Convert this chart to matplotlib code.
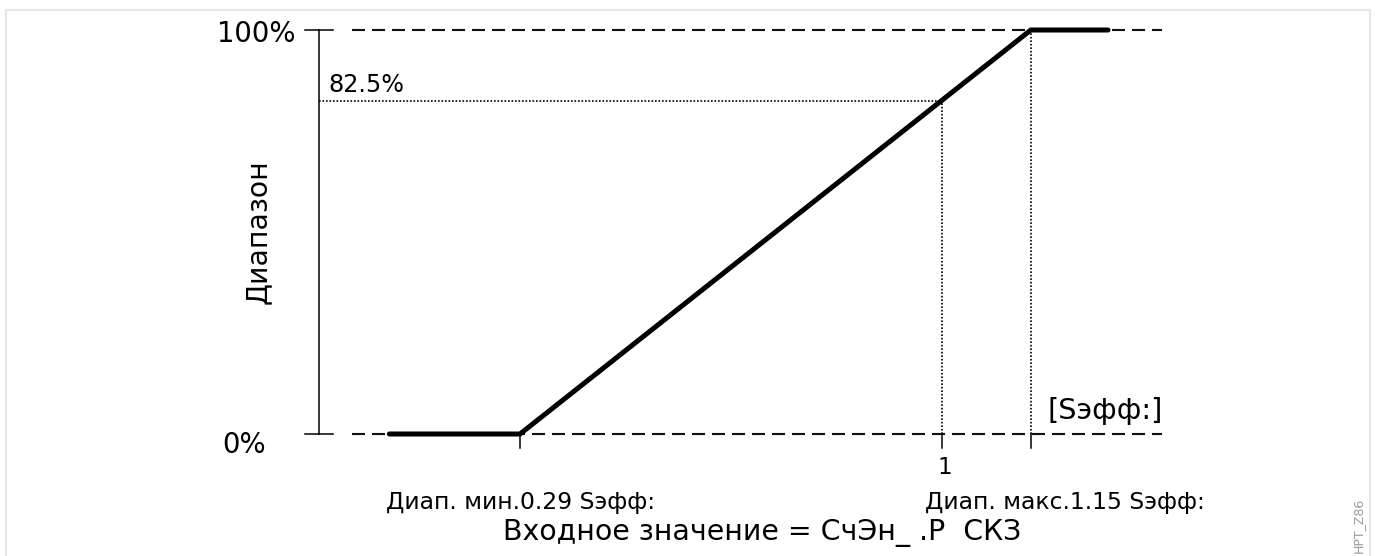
import matplotlib
matplotlib.use("Agg")
import matplotlib.pyplot as plt
from matplotlib.patches import Rectangle

# Characteristic: output range (%) versus input value (in units of Sэфф)
x_knees = [0.07, 0.29, 1.15, 1.28]
y_range = [0, 0, 100, 100]
range_min = 0.29
range_max = 1.15
ref_input = 1.0
ref_output = 82.5

y_tick_labels = ["0%", "100%"]
ref_label = "82.5%"
ref_input_label = "1"
min_label = "Диап. мин.0.29 Sэфф:"
max_label = "Диап. макс.1.15 Sэфф:"
unit_label = "[Sэфф:]"
x_title = "Входное значение = СчЭн_ .P  СКЗ"
y_title = "Диапазон"
doc_id = "HPT_Z86"

W, H, DPI = 1375, 556, 100
fig = plt.figure(figsize=(W / DPI, H / DPI), dpi=DPI)
fig.patch.set_facecolor("white")

# light frame around the drawing
fig.add_artist(Rectangle((6 / W, -0.05), (1370 - 6) / W, (H - 10) / H + 0.05,
                         transform=fig.transFigure, fill=False,
                         edgecolor="#e6e6e6", linewidth=1.6))

ax = fig.add_axes([0, 0, 1, 1])
ax.set_axis_off()
# scale: 594 px per input unit, 4.04 px per percent
px_per_x = 594.0
px_per_y = 4.04
x_anchor_px = 520.0
y0_px = H - 434.0
ax.set_xlim(range_min - x_anchor_px / px_per_x, range_min + (W - x_anchor_px) / px_per_x)
ax.set_ylim(-y0_px / px_per_y, (H - y0_px) / px_per_y)


def xpx(p):
    return range_min + (p - x_anchor_px) / px_per_x


axis_x = xpx(319)
dash_start = xpx(352)
dash_end = xpx(1162)
tick_len = 3.4
dash_style = (0, (13 / 1.5 * 0.72, 7 / 1.5 * 0.72))
dot_style = (0, (1.0, 1.1))

# reference levels 0% and 100%
for lvl in y_range[1:3]:
    ax.plot([dash_start, dash_end], [lvl, lvl], color="#111111", lw=1.5,
            linestyle=dash_style, solid_capstyle="butt", dash_capstyle="butt")
    ax.plot([xpx(305), xpx(333)], [lvl, lvl], color="black", lw=1.1)

# vertical axis line
ax.plot([axis_x, axis_x], [0, 100], color="black", lw=1.1)

# guide lines for the reference point and range maximum
ax.plot([axis_x, ref_input], [ref_output, ref_output], color="black", lw=1.2,
        linestyle=dot_style)
ax.plot([ref_input, ref_input], [0, ref_output], color="black", lw=1.2,
        linestyle=dot_style)
ax.plot([range_max, range_max], [0, 100], color="black", lw=1.2,
        linestyle=dot_style)

# x ticks
for xv in (range_min, ref_input, range_max):
    ax.plot([xv, xv], [0, -tick_len], color="black", lw=1.1)

# characteristic
ax.plot(x_knees, y_range, color="black", lw=3.6, solid_capstyle="round",
        solid_joinstyle="miter", zorder=5)

# labels
ax.text(xpx(296), 100 - 0.9, y_tick_labels[1], ha="right", va="center", fontsize=19.8)
ax.text(xpx(266), 0 - 2.8, y_tick_labels[0], ha="right", va="center", fontsize=19.8)
ax.text(xpx(328), ref_output + 3.9, ref_label, ha="left", va="center", fontsize=17.2)
ax.text(xpx(258), 50, y_title, ha="center", va="center", rotation=90, fontsize=20.3)
ax.text(xpx(1047), 5.6, unit_label, ha="left", va="center", fontsize=20.6)
ax.text(ref_input + 0.005, -8.3, ref_input_label, ha="center", va="center", fontsize=16.5)
ax.text(xpx(386), -16.9, min_label, ha="left", va="center", fontsize=16.9)
ax.text(xpx(925), -16.9, max_label, ha="left", va="center", fontsize=16.9)
ax.text(xpx(762), -24.5, x_title, ha="center", va="center", fontsize=20.4)
ax.text(xpx(1358), -22.5, doc_id, ha="center", va="center", rotation=90,
        fontsize=9, color="#9a9a9a")

fig.savefig("out.png", dpi=DPI, facecolor="white")
